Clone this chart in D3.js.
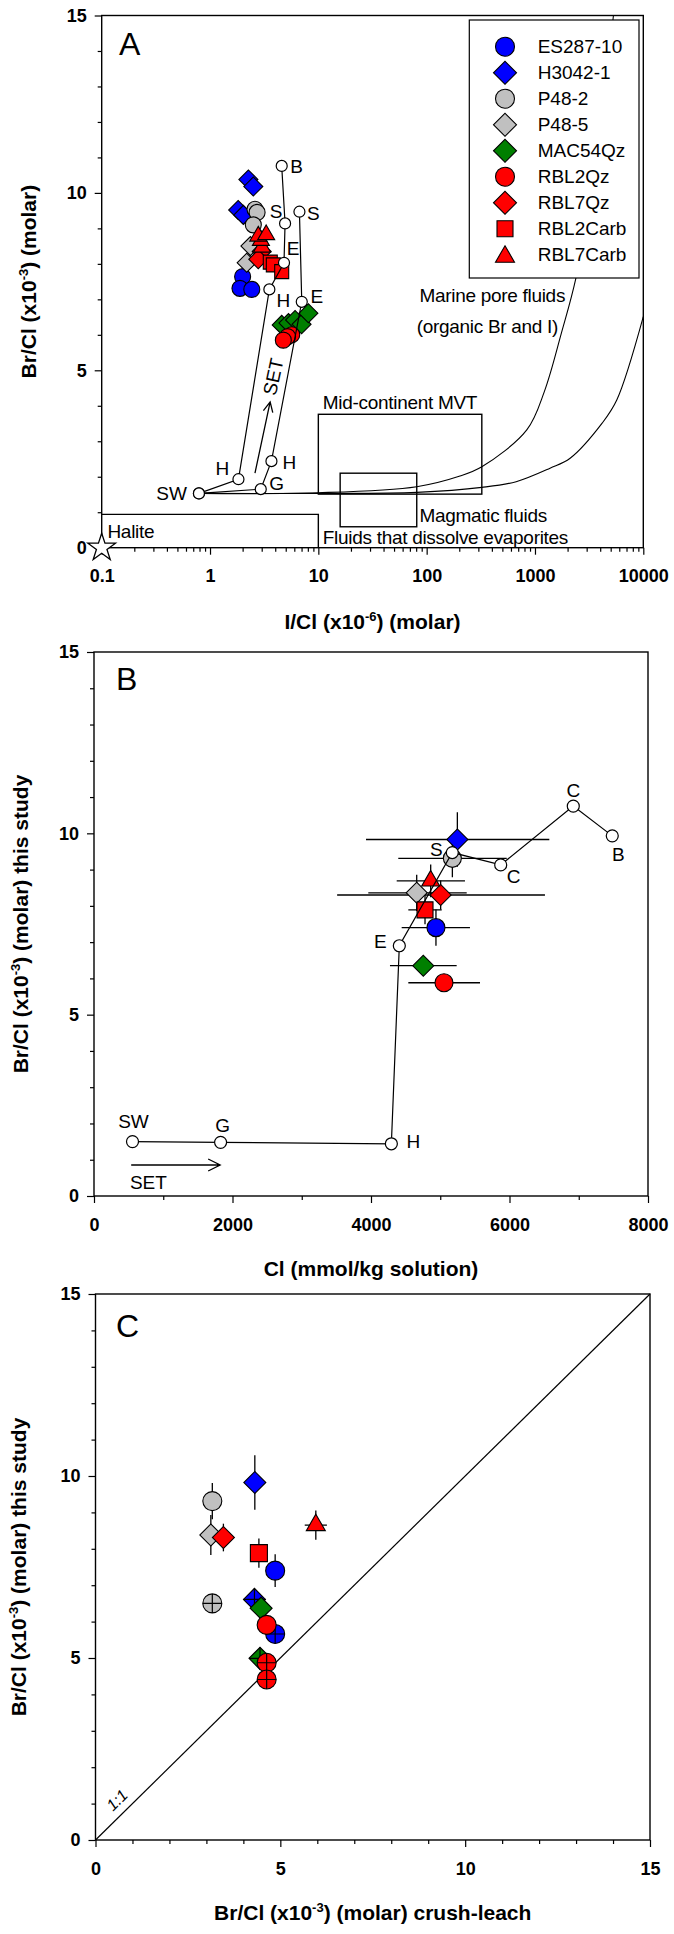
<!DOCTYPE html>
<html>
<head>
<meta charset="utf-8">
<script src="https://cdn.jsdelivr.net/npm/d3@7"></script>
<style>
  body { margin: 0; background: #fff; }
  svg text { font-family: "Liberation Sans", Arial, Helvetica, sans-serif; }
</style>
</head>
<body>
<svg id="chart" width="674" height="1934"></svg>
<script>
// ======== Samples (same order as the legend) ========
const sampleNames = ["ES287-10", "H3042-1", "P48-2", "P48-5", "MAC54Qz", "RBL2Qz", "RBL7Qz", "RBL2Carb", "RBL7Carb"];
const sampleColors = ["#0000ff", "#0000ff", "#c0c0c0", "#c0c0c0", "#007f00", "#ff0000", "#ff0000", "#ff0000", "#ff0000"];
const sampleShapes = ["circle", "diamond", "circle", "diamond", "diamond", "circle", "diamond", "square", "triangle"];

// ======== Panel A: [I/Cl x1e-6, Br/Cl x1e-3] ========
const aES287_10 = [[2.0, 7.64], [1.89, 7.31], [2.43, 7.28]];
const aH3042_1 = [[2.26, 10.38], [2.51, 10.18], [1.82, 9.52], [2.03, 9.38]];
const aP48_2 = [[2.60, 9.54], [2.72, 9.45], [2.51, 9.10]];
const aP48_5 = [[2.36, 8.5], [2.18, 8.03]];
const aMAC54Qz = [[4.59, 6.28], [5.3, 6.33], [6.10, 6.42], [7.0, 6.3], [8.09, 6.61]];
const aRBL2Qz = [[5.68, 6.0], [5.2, 5.95], [4.75, 5.85]];
const aRBL7Qz = [[3.0, 8.35], [2.79, 8.13]];
const aRBL2Carb = [[3.6, 8.05], [3.84, 7.97], [4.59, 7.78]];
const aRBL7Carb = [[3.02, 8.47], [2.95, 8.66], [2.79, 8.78], [3.30, 8.82]];

// seawater evaporation trajectories
const aSetPath1 = [[0.79, 1.53], [1.83, 1.93], [3.53, 7.28], [4.82, 8.03], [4.93, 9.14], [4.59, 10.76]];
const aSetPath1Labels = ["SW", "H", "H", "E", "S", "B"];
const aSetPath2 = [[0.79, 1.53], [2.94, 1.65], [3.69, 2.44], [7.03, 6.93], [6.69, 9.47]];
const aSetPath2Labels = ["", "G", "H", "E", "S"];

// marine pore fluid mixing curves
const aMarineCurve1 = [[0.79, 1.53], [10, 1.55], [81, 1.72], [203, 2.02], [323, 2.28], [840, 3.32], [1220, 4.4], [1750, 6.04], [2384, 7.59], [3500, 10.5], [5300, 15]];
const aMarineCurve2 = [[0.79, 1.53], [10, 1.53], [81, 1.56], [323, 1.70], [670, 1.86], [1377, 2.24], [2110, 2.52], [4170, 3.51], [5690, 4.16], [10000, 6.51]];

// fields: [I/Cl min, I/Cl max, Br/Cl min, Br/Cl max]
const aMvtBox = [10, 323, 1.51, 3.76];
const aMagmaticBox = [15.9, 81, 0.59, 2.10];
const aHaliteBox = [0.1, 10, 0, 0.94];
const aHalite = [0.1, 0];

// ======== Panel B: [Cl, Br/Cl, Cl low, Cl high, Br/Cl +/-] ========
const bES287_10 = [[4938, 7.40, 4443, 5429, 0.5]];
const bH3042_1 = [[5247, 9.83, 3928, 6575, 0.75]];
const bP48_2 = [[5175, 9.31, 4394, 5960, 0.52]];
const bP48_5 = [[4660, 8.36, 3961, 5382, 0.5]];
const bMAC54Qz = [[4755, 6.35, 4274, 5237, 0.15]];
const bRBL2Qz = [[5054, 5.88, 4539, 5574, 0.15]];
const bRBL7Qz = [[5006, 8.30, 3511, 6512, 0.4]];
const bRBL2Carb = [[4780, 7.89, 4539, 5021, 0.4]];
const bRBL7Carb = [[4862, 8.69, 4371, 5357, 0.45]];

const bSetPath = [[556, 1.50], [1828, 1.48], [4294, 1.44], [4409, 6.90], [5174, 9.47], [5873, 9.13], [6921, 10.75], [7484, 9.93]];
const bSetLabels = ["SW", "G", "H", "E", "S", "C", "C", "B"];
const bSetArrow = [[537, 0.855], [1822, 0.855]];

// ======== Panel C: [crush-leach, this study, +/- this study, +/- crush-leach] ========
const cES287_10 = [[4.86, 7.40, 0.45, 0]];
const cH3042_1 = [[4.31, 9.82, 0.75, 0]];
const cP48_2 = [[3.16, 9.31, 0.5, 0]];
const cP48_5 = [[3.12, 8.38, 0.55, 0]];
const cMAC54Qz = [[4.48, 6.37, 0, 0]];
const cRBL2Qz = [[4.63, 5.91, 0, 0]];
const cRBL7Qz = [[3.46, 8.31, 0.38, 0]];
const cRBL2Carb = [[4.42, 7.88, 0.4, 0]];
const cRBL7Carb = [[5.96, 8.65, 0.4, 0.3]];
// second analyses, drawn as crossed symbols
const cES287_10x = [[4.86, 5.66]];
const cH3042_1x = [[4.30, 6.61]];
const cP48_2x = [[3.16, 6.50]];
const cMAC54Qzx = [[4.45, 4.99]];
const cRBL2Qzx = [[4.63, 4.87], [4.63, 4.41]];

const aSeries = [aES287_10, aH3042_1, aP48_2, aP48_5, aMAC54Qz, aRBL2Qz, aRBL7Qz, aRBL2Carb, aRBL7Carb];
const bSeries = [bES287_10, bH3042_1, bP48_2, bP48_5, bMAC54Qz, bRBL2Qz, bRBL7Qz, bRBL2Carb, bRBL7Carb];
const cSeries = [cES287_10, cH3042_1, cP48_2, cP48_5, cMAC54Qz, cRBL2Qz, cRBL7Qz, cRBL2Carb, cRBL7Carb];
const cCrossed = [cES287_10x, cH3042_1x, cP48_2x, [], cMAC54Qzx, cRBL2Qzx, [], [], []];

// ======== Helpers ========
const svg = d3.select("#chart");

// w = symbol width in px (diagonal for diamonds)
function symbolD(shape, w) {
    if (shape === "circle") return d3.symbol(d3.symbolCircle, Math.PI * w * w / 4)();
    if (shape === "square") return d3.symbol(d3.symbolSquare, w * w)();
    if (shape === "diamond") return d3.symbol(d3.symbolSquare, w * w / 2)();
    return d3.symbol(d3.symbolTriangle, w * w * Math.sqrt(3) / 4)();
}

function marker(g, shape, color, w, px, py) {
    return g.append('path')
        .attr('d', symbolD(shape, w))
        .attr('transform', 'translate(' + px + ',' + py + ')' + (shape === 'diamond' ? ' rotate(45)' : ''))
        .attr('fill', color)
        .attr('stroke', '#000')
        .attr('stroke-width', 1.1);
}

function title(g, x, y, rot, parts, size) {
    let t = g.append('text')
        .attr('transform', 'translate(' + x + ',' + y + ')' + (rot ? ' rotate(' + rot + ')' : ''))
        .attr('text-anchor', 'middle')
        .attr('font-weight', 'bold')
        .attr('font-size', size);
    parts.forEach(function (p, i) {
        if (i === 1) {
            t.append('tspan').attr('font-size', 13).attr('dy', -8).text(p);
        } else if (i === 2) {
            t.append('tspan').attr('dy', 8).text(p);
        } else {
            t.append('tspan').text(p);
        }
    });
}

function axes(g, x, y, xMajor, xMinor, xFmt, yTop) {
    let h = y.range()[0];
    let xa = g.append('g').attr('transform', 'translate(0,' + h + ')')
        .call(d3.axisBottom(x).tickValues(xMajor).tickFormat(xFmt).tickSize(7).tickPadding(15));
    g.append('g').attr('transform', 'translate(0,' + h + ')')
        .call(d3.axisBottom(x).tickValues(xMinor).tickFormat('').tickSize(4));
    let ya = g.append('g').attr('transform', 'translate(' + x.range()[0] + ',0)')
        .call(d3.axisLeft(y).tickValues([0, 5, 10, 15]).tickFormat(d3.format('d')).tickSize(7).tickPadding(8));
    g.append('g').attr('transform', 'translate(' + x.range()[0] + ',0)')
        .call(d3.axisLeft(y).tickValues(d3.range(0, 16).filter(d => d % 5)).tickFormat('').tickSize(4));
    g.selectAll('.domain').remove();
    g.selectAll('.tick line').attr('stroke', '#000').attr('stroke-width', 1.2);
    g.selectAll('.tick text').attr('font-size', 18).attr('font-weight', 'bold')
        .attr('font-family', '"Liberation Sans", Arial, sans-serif').attr('fill', '#000');
    // frame
    g.append('rect')
        .attr('x', x.range()[0]).attr('y', y.range()[1])
        .attr('width', x.range()[1] - x.range()[0])
        .attr('height', y.range()[0] - y.range()[1])
        .attr('fill', 'none').attr('stroke', '#000').attr('stroke-width', 1.4);
}

function nodes(g, pts, labels, offsets, x, y, r) {
    g.append('path')
        .attr('d', d3.line().x(d => x(d[0])).y(d => y(d[1]))(pts))
        .attr('fill', 'none').attr('stroke', '#000').attr('stroke-width', 1.2);
    g.selectAll(null).data(pts).enter().append('circle')
        .attr('cx', d => x(d[0])).attr('cy', d => y(d[1])).attr('r', r)
        .attr('fill', '#fff').attr('stroke', '#000').attr('stroke-width', 1.2);
    g.selectAll(null).data(pts).enter().append('text')
        .attr('x', (d, i) => x(d[0]) + offsets[i][0])
        .attr('y', (d, i) => y(d[1]) + offsets[i][1])
        .attr('dy', '0.35em')
        .attr('text-anchor', (d, i) => offsets[i][2] || 'middle')
        .attr('font-size', 19)
        .text((d, i) => labels[i]);
}

// ======== Panel A ========
const xA = d3.scaleLog().domain([0.1, 10000]).range([101.7, 643.3]);
const yA = d3.scaleLinear().domain([0, 15]).range([547.7, 15.5]);
const gA = svg.append('g');

gA.append('clipPath').attr('id', 'clipA').append('rect')
    .attr('x', 101.7).attr('y', 15.5).attr('width', 541.6).attr('height', 532.2);

// fields
function box(g, b, x, y) {
    g.append('rect')
        .attr('x', x(b[0])).attr('y', y(b[3]))
        .attr('width', x(b[1]) - x(b[0])).attr('height', y(b[2]) - y(b[3]))
        .attr('fill', 'none').attr('stroke', '#000').attr('stroke-width', 1.4);
}
box(gA, aMvtBox, xA, yA);
box(gA, aMagmaticBox, xA, yA);
gA.append('path')
    .attr('d', 'M' + xA(aHaliteBox[0]) + ',' + yA(aHaliteBox[3]) + 'H' + xA(aHaliteBox[1]) + 'V' + yA(aHaliteBox[2]))
    .attr('fill', 'none').attr('stroke', '#000').attr('stroke-width', 1.4);

// mixing curves
const curveLine = d3.line().x(d => xA(d[0])).y(d => yA(d[1])).curve(d3.curveCatmullRom);
[aMarineCurve1, aMarineCurve2].forEach(function (c) {
    gA.append('path').attr('d', curveLine(c)).attr('clip-path', 'url(#clipA)')
        .attr('fill', 'none').attr('stroke', '#000').attr('stroke-width', 1.1);
});

// annotations
const annA = [
    {t: 'Mid-continent MVT', x: 11, y: 3.91, a: 'start'},
    {t: 'Magmatic fluids', x: 85.7, y: 0.73, a: 'start'},
    {t: 'Fluids that dissolve evaporites', x: 11, y: 0.10, a: 'start'},
    {t: 'Halite', x: 0.113, y: 0.27, a: 'start'},
    {t: 'Marine pore fluids', x: 1897, y: 6.93, a: 'end'},
    {t: '(organic Br and I)', x: 1634, y: 6.05, a: 'end'}
];
gA.selectAll(null).data(annA).enter().append('text')
    .attr('x', d => xA(d.x)).attr('y', d => yA(d.y))
    .attr('text-anchor', d => d.a).attr('font-size', 19).attr('letter-spacing', -0.3)
    .text(d => d.t);

// samples
const sizeA = {circle: 16, diamond: 19, square: 14, triangle: 17};
aSeries.forEach(function (s, i) {
    s.forEach(function (d) {
        marker(gA, sampleShapes[i], sampleColors[i], sizeA[sampleShapes[i]], xA(d[0]), yA(d[1]));
    });
});

nodes(gA, aSetPath1, aSetPath1Labels,
    [[-12, 0, 'end'], [-16, -11], [14, 11], [9, -14], [-9, -12], [15, 0]], xA, yA, 5.5);
nodes(gA, aSetPath2, aSetPath2Labels,
    [[0, 0], [16, -6], [18, 1], [15, -5], [14, 2]], xA, yA, 5.5);

// SET arrow
const aSetArrow = [[2.60, 2.10], [3.59, 4.11]];
(function () {
    let x0 = xA(aSetArrow[0][0]), y0 = yA(aSetArrow[0][1]);
    let x1 = xA(aSetArrow[1][0]), y1 = yA(aSetArrow[1][1]);
    let ang = Math.atan2(y1 - y0, x1 - x0);
    let hl = 11, ha = 0.45;
    gA.append('path')
        .attr('d', 'M' + x0 + ',' + y0 + 'L' + x1 + ',' + y1 +
            'M' + (x1 - hl * Math.cos(ang - ha)) + ',' + (y1 - hl * Math.sin(ang - ha)) +
            'L' + x1 + ',' + y1 +
            'L' + (x1 - hl * Math.cos(ang + ha)) + ',' + (y1 - hl * Math.sin(ang + ha)))
        .attr('fill', 'none').attr('stroke', '#000').attr('stroke-width', 1.3);
    gA.append('text')
        .attr('transform', 'translate(' + xA(3.83) + ',' + yA(4.82) + ') rotate(' + (ang * 180 / Math.PI) + ')')
        .attr('text-anchor', 'middle').attr('dy', '0.35em').attr('font-size', 19)
        .text('SET');
})();

axes(gA, xA, yA, [0.1, 1, 10, 100, 1000, 10000],
    d3.range(-1, 4).flatMap(e => d3.range(2, 10).map(k => k * Math.pow(10, e))),
    d => d < 1 ? '0.1' : d3.format('d')(d));

// halite star
gA.append('path')
    .attr('d', d3.symbol(d3.symbolStar, 236)())
    .attr('transform', 'translate(' + xA(aHalite[0]) + ',' + yA(aHalite[1]) + ')')
    .attr('fill', '#fff').attr('stroke', '#000').attr('stroke-width', 1.3);

// legend
const lg = gA.append('g');
lg.append('rect').attr('x', 469.3).attr('y', 20).attr('width', 169.7).attr('height', 258)
    .attr('fill', '#fff').attr('stroke', '#000').attr('stroke-width', 1.2);
const sizeL = {circle: 19, diamond: 23, square: 16, triangle: 19};
sampleNames.forEach(function (n, i) {
    let yy = 46.7 + i * 26;
    marker(lg, sampleShapes[i], sampleColors[i], sizeL[sampleShapes[i]], 505, yy + (sampleShapes[i] === 'triangle' ? 2 : 0));
    lg.append('text').attr('x', 537.7).attr('y', yy).attr('dy', '0.35em')
        .attr('font-size', 19).text(n);
});

gA.append('text').attr('x', 119).attr('y', 55).attr('font-size', 32).text('A');
title(gA, 372.5, 629, 0, ['I/Cl (x10', '-6', ') (molar)'], 21);
title(gA, 36, 281.6, -90, ['Br/Cl (x10', '-3', ') (molar)'], 21);

// ======== Panel B ========
const xB = d3.scaleLinear().domain([0, 8000]).range([94, 648]);
const yB = d3.scaleLinear().domain([0, 15]).range([1196, 652]);
const gB = svg.append('g');

const sizeB = {circle: 18, diamond: 21, square: 16, triangle: 18};
bSeries.forEach(function (s) {
    s.forEach(function (d) {
        gB.append('path')
            .attr('d', 'M' + xB(d[2]) + ',' + yB(d[1]) + 'H' + xB(d[3]) +
                'M' + xB(d[0]) + ',' + yB(d[1] - d[4]) + 'V' + yB(d[1] + d[4]))
            .attr('stroke', '#000').attr('stroke-width', 1.3);
    });
});
bSeries.forEach(function (s, i) {
    s.forEach(function (d) {
        marker(gB, sampleShapes[i], sampleColors[i], sizeB[sampleShapes[i]], xB(d[0]), yB(d[1]));
    });
});
nodes(gB, bSetPath, bSetLabels,
    [[1, -20], [2, -17], [22, -2], [-19, -4], [-16, -3], [13, 11], [0, -16], [6, 18]], xB, yB, 6);

gB.append('path')
    .attr('d', 'M' + xB(bSetArrow[0][0]) + ',' + yB(bSetArrow[0][1]) + 'H' + xB(bSetArrow[1][0]) +
        'm-12,-6l12,6l-12,6')
    .attr('fill', 'none').attr('stroke', '#000').attr('stroke-width', 1.3);
gB.append('text').attr('x', xB(785)).attr('y', yB(0.37)).attr('dy', '0.35em')
    .attr('text-anchor', 'middle').attr('font-size', 19).text('SET');

axes(gB, xB, yB, [0, 2000, 4000, 6000, 8000], [1000, 3000, 5000, 7000], d3.format('d'));
gB.append('text').attr('x', 116).attr('y', 690).attr('font-size', 32).text('B');
title(gB, 371, 1276, 0, ['Cl (mmol/kg solution)'], 21);
title(gB, 28, 924, -90, ['Br/Cl (x10', '-3', ') (molar) this study'], 21);

// ======== Panel C ========
const xC = d3.scaleLinear().domain([0, 15]).range([95.5, 650]);
const yC = d3.scaleLinear().domain([0, 15]).range([1840, 1294]);
const gC = svg.append('g');

gC.append('line')
    .attr('x1', xC(0)).attr('y1', yC(0)).attr('x2', xC(15)).attr('y2', yC(15))
    .attr('stroke', '#000').attr('stroke-width', 1.2);
gC.append('text')
    .attr('transform', 'translate(' + xC(0.58) + ',' + yC(1.10) + ') rotate(-44.6)')
    .attr('text-anchor', 'middle').attr('dy', '0.35em').attr('font-size', 16)
    .attr('font-style', 'italic').text('1:1');

const sizeC = {circle: 19, diamond: 22, square: 17, triangle: 19};
cCrossed.forEach(function (s, i) {
    s.forEach(function (d) {
        let px = xC(d[0]), py = yC(d[1]), h = sizeC[sampleShapes[i]] / 2;
        marker(gC, sampleShapes[i], sampleColors[i], sizeC[sampleShapes[i]], px, py);
        gC.append('path')
            .attr('d', 'M' + (px - h) + ',' + py + 'h' + (2 * h) + 'M' + px + ',' + (py - h) + 'v' + (2 * h))
            .attr('stroke', '#000').attr('stroke-width', 1.2);
    });
});
cSeries.forEach(function (s) {
    s.forEach(function (d) {
        gC.append('path')
            .attr('d', 'M' + xC(d[0]) + ',' + yC(d[1] - d[2]) + 'V' + yC(d[1] + d[2]) +
                'M' + xC(d[0] - d[3]) + ',' + yC(d[1]) + 'H' + xC(d[0] + d[3]))
            .attr('stroke', '#000').attr('stroke-width', 1.3);
    });
});
cSeries.forEach(function (s, i) {
    s.forEach(function (d) {
        marker(gC, sampleShapes[i], sampleColors[i], sizeC[sampleShapes[i]], xC(d[0]), yC(d[1]));
    });
});

axes(gC, xC, yC, [0, 5, 10, 15], d3.range(0, 16).filter(d => d % 5), d3.format('d'));
gC.append('text').attr('x', 116).attr('y', 1337).attr('font-size', 32).text('C');
title(gC, 372.7, 1920, 0, ['Br/Cl (x10', '-3', ') (molar) crush-leach'], 21);
title(gC, 26, 1567, -90, ['Br/Cl (x10', '-3', ') (molar) this study'], 21);
</script>
</body>
</html>
